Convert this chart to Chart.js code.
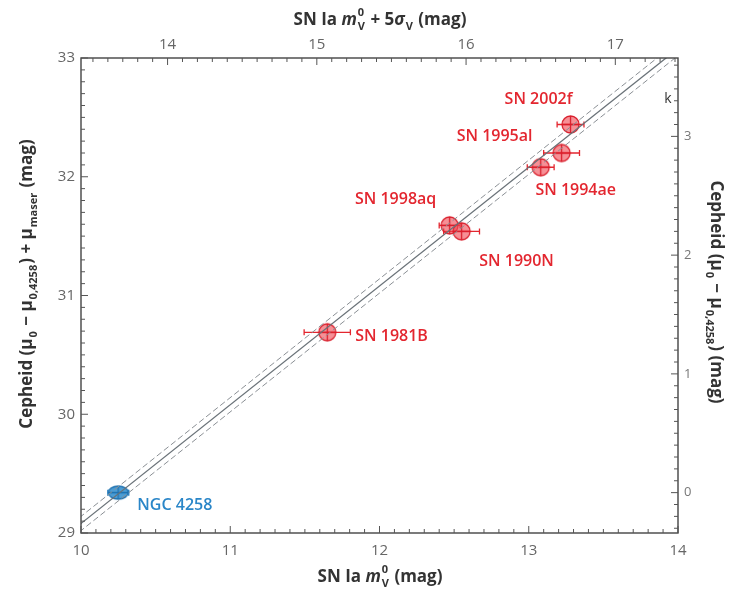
<!DOCTYPE html>
<html>
<head>
<meta charset="utf-8">
<script src="https://cdn.jsdelivr.net/npm/chart.js@4.4.1/dist/chart.umd.min.js"></script>
<style>
  html, body { margin: 0; padding: 0; background: #fff; }
</style>
</head>
<body>
<canvas id="hubbleChart" width="732" height="596"></canvas>
<script>
// SN Ia / Cepheid calibrators
const names   = ['NGC 4258', 'SN 1981B', 'SN 1998aq', 'SN 1990N', 'SN 1994ae', 'SN 1995al', 'SN 2002fk'];
const tags    = ['NGC 4258', 'SN 1981B', 'SN 1998aq', 'SN 1990N', 'SN 1994ae', 'SN 1995al', 'SN 2002f'];
const snMag   = [10.25, 11.65, 12.47, 12.55, 13.08, 13.22, 13.28];
const cephMu  = [29.34, 30.69, 31.59, 31.54, 32.08, 32.20, 32.44];
const snErr   = [0.07, 0.155, 0.07, 0.12, 0.09, 0.12, 0.09];

// fitted relation (slope 1) and its +/- band
const fitX = [9.8, 14.2];
const fitY = [28.88, 33.28];
const band = 0.06;

// axis ranges / tick values
const xRange  = [10, 14];
const yRange  = [29, 33];
const x2Shift = 3.42;    // top axis = m + 5 sigma
const y2Shift = 29.34;   // right axis = mu - mu(4258)
const bottomTicks = [10, 11, 12, 13, 14];
const topTicks    = [14, 15, 16, 17];
const leftTicks   = [29, 30, 31, 32, 33];
const rightTicks  = [0, 1, 2, 3];

// label offsets (px) from each point
const tagDx    = [19, 28, -54, 55, 35, -67, -32];
const tagDy    = [13, 4, -26, 30, 23, -17, -25];
const tagAlign = ['left', 'left', 'center', 'center', 'center', 'center', 'center'];

const RED = '#e3262f';
const BLUE = '#2a86c8';
const FONT = '"Open Sans", "Noto Sans", sans-serif';

function makeMarker(rx, ry, fill, stroke) {
    const c = document.createElement('canvas');
    const w = rx * 2 + 4, h = ry * 2 + 4;
    c.width = w; c.height = h;
    const g = c.getContext('2d');
    g.beginPath();
    g.ellipse(w / 2, h / 2, rx, ry, 0, 0, Math.PI * 2);
    g.fillStyle = fill;
    g.fill();
    g.strokeStyle = stroke;
    g.lineWidth = 1.3;
    g.stroke();
    g.beginPath();
    g.moveTo(w / 2 - rx, h / 2); g.lineTo(w / 2 + rx, h / 2);
    g.moveTo(w / 2, h / 2 - ry); g.lineTo(w / 2, h / 2 + ry);
    g.stroke();
    return c;
}
const redMarker = makeMarker(8.5, 8.5, 'rgba(240,70,80,0.6)', '#d91e2b');
const blueMarker = makeMarker(10, 6.5, 'rgba(45,140,205,0.85)', '#1f72b0');

// rich text: parts are {t, it} or {sub} or {sup, sub} stacked
function richWidth(ctx, parts, big, small) {
    let w = 0;
    parts.forEach(p => {
        if (p.t !== undefined) { ctx.font = (p.it ? 'italic ' : '') + big; w += ctx.measureText(p.t).width; }
        else {
            ctx.font = small;
            w += Math.max(p.sup ? ctx.measureText(p.sup).width : 0, p.sub ? ctx.measureText(p.sub).width : 0) + 2;
        }
    });
    return w;
}
function drawRich(ctx, parts, cx, cy, rot, big, small, color) {
    ctx.save();
    ctx.translate(cx, cy);
    ctx.rotate(rot);
    ctx.fillStyle = color;
    ctx.textBaseline = 'middle';
    ctx.textAlign = 'left';
    let x = -richWidth(ctx, parts, big, small) / 2;
    parts.forEach(p => {
        if (p.t !== undefined) {
            ctx.font = (p.it ? 'italic ' : '') + big;
            ctx.fillText(p.t, x, 0);
            x += ctx.measureText(p.t).width;
        } else {
            ctx.font = small;
            let w = 0;
            if (p.sup) { ctx.fillText(p.sup, x + 1, -7); w = ctx.measureText(p.sup).width; }
            if (p.sub) { ctx.fillText(p.sub, x + 1, 7); w = Math.max(w, ctx.measureText(p.sub).width); }
            x += w + 2;
        }
    });
    ctx.restore();
}

const titleBig = 'bold 17px ' + FONT;
const titleSmall = 'bold 11px ' + FONT;
const titleBottom = [{ t: 'SN Ia ' }, { t: 'm', it: true }, { sup: '0', sub: 'V' }, { t: ' (mag)' }];
const titleTop = [{ t: 'SN Ia ' }, { t: 'm', it: true }, { sup: '0', sub: 'V' }, { t: ' + 5' }, { t: 'σ', it: true }, { sub: 'V' }, { t: ' (mag)' }];
const titleLeft = [{ t: 'Cepheid (μ' }, { sub: '0' }, { t: ' − μ' }, { sub: '0,4258' }, { t: ') + μ' }, { sub: 'maser' }, { t: ' (mag)' }];
const titleRight = [{ t: 'Cepheid (μ' }, { sub: '0' }, { t: ' − μ' }, { sub: '0,4258' }, { t: ') (mag)' }];

const inwardTicks = {
    id: 'inwardTicks',
    beforeDatasetsDraw(chart) {
        // horizontal error bars
        const ctx = chart.ctx, xs = chart.scales.x, ys = chart.scales.y;
        ctx.save();
        ctx.lineWidth = 1.3;
        snMag.forEach((m, i) => {
            const y = ys.getPixelForValue(cephMu[i]);
            const x0 = xs.getPixelForValue(m - snErr[i]);
            const x1 = xs.getPixelForValue(m + snErr[i]);
            ctx.strokeStyle = i === 0 ? BLUE : RED;
            ctx.beginPath();
            ctx.moveTo(x0, y); ctx.lineTo(x1, y);
            ctx.moveTo(x0, y - 3); ctx.lineTo(x0, y + 3);
            ctx.moveTo(x1, y - 3); ctx.lineTo(x1, y + 3);
            ctx.stroke();
        });
        ctx.restore();
    },
    afterDraw(chart) {
        const ctx = chart.ctx, a = chart.chartArea;
        ctx.save();
        ctx.strokeStyle = '#444';
        ctx.lineWidth = 1.4;
        ctx.strokeRect(a.left, a.top, a.right - a.left, a.bottom - a.top);
        ctx.lineWidth = 1;
        ctx.strokeStyle = '#555';
        const tickSet = (scale, horizontal, sign, base) => {
            const lo = Math.ceil(scale.min * 10 - 1e-6), hi = Math.floor(scale.max * 10 + 1e-6);
            for (let k = lo; k <= hi; k++) {
                const p = scale.getPixelForValue(k / 10);
                const len = (k % 10 === 0) ? 7 : 4;
                ctx.beginPath();
                if (horizontal) { ctx.moveTo(p, base); ctx.lineTo(p, base + sign * len); }
                else { ctx.moveTo(base, p); ctx.lineTo(base + sign * len, p); }
                ctx.stroke();
            }
        };
        tickSet(chart.scales.x, true, -1, a.bottom);
        tickSet(chart.scales.x2, true, 1, a.top);
        tickSet(chart.scales.y, false, 1, a.left);
        tickSet(chart.scales.y2, false, -1, a.right);

        // axis titles
        drawRich(ctx, titleBottom, 380, 577, 0, titleBig, titleSmall, '#333');
        drawRich(ctx, titleTop, 380, 20, 0, titleBig, titleSmall, '#333');
        drawRich(ctx, titleLeft, 27, 284, -Math.PI / 2, titleBig, titleSmall, '#333');
        drawRich(ctx, titleRight, 716, 292, Math.PI / 2, titleBig, titleSmall, '#333');

        // point labels
        const xs = chart.scales.x, ys = chart.scales.y;
        ctx.font = '600 16px ' + FONT;
        ctx.textBaseline = 'middle';
        tags.forEach((t, i) => {
            ctx.fillStyle = i === 0 ? BLUE : RED;
            ctx.textAlign = tagAlign[i];
            ctx.fillText(t, xs.getPixelForValue(snMag[i]) + tagDx[i], ys.getPixelForValue(cephMu[i]) + tagDy[i]);
        });
        ctx.fillStyle = '#333';
        ctx.textAlign = 'center';
        ctx.font = '14px ' + FONT;
        ctx.fillText('k', 668, 99);
        ctx.restore();
    }
};

const tickFont = { family: FONT, size: 15 };
const hiddenGrid = { display: false, drawTicks: false };
const setTicks = list => scale => { scale.ticks = list.map(v => ({ value: v })); };

const ctx = document.getElementById('hubbleChart').getContext('2d');
const hubbleChart = new Chart(ctx, {
    type: 'scatter',
    data: {
        datasets: [
            {
                label: 'fit',
                type: 'line',
                data: fitX.map((x, i) => ({ x: x, y: fitY[i] })),
                borderColor: '#6a7278',
                borderWidth: 1.3,
                pointRadius: 0
            },
            {
                label: 'fit +',
                type: 'line',
                data: fitX.map((x, i) => ({ x: x, y: fitY[i] + band })),
                borderColor: '#8a8f94',
                borderWidth: 1,
                borderDash: [6, 3],
                pointRadius: 0
            },
            {
                label: 'fit -',
                type: 'line',
                data: fitX.map((x, i) => ({ x: x, y: fitY[i] - band })),
                borderColor: '#8a8f94',
                borderWidth: 1,
                borderDash: [6, 3],
                pointRadius: 0
            },
            {
                label: 'SN Ia',
                data: snMag.slice(1).map((m, i) => ({ x: m, y: cephMu[i + 1] })),
                pointStyle: redMarker
            },
            {
                label: names[0],
                data: [{ x: snMag[0], y: cephMu[0] }],
                pointStyle: blueMarker
            }
        ]
    },
    options: {
        responsive: false,
        animation: false,
        events: [],
        layout: { padding: 0 },
        plugins: {
            legend: { display: false },
            tooltip: { enabled: false }
        },
        scales: {
            x: {
                type: 'linear', position: 'bottom',
                min: xRange[0], max: xRange[1],
                grid: hiddenGrid, border: { display: false },
                afterBuildTicks: setTicks(bottomTicks),
                ticks: { padding: 9, font: tickFont, color: '#666' },
                afterFit: s => { s.height = 63; }
            },
            x2: {
                type: 'linear', position: 'top',
                min: xRange[0] + x2Shift, max: xRange[1] + x2Shift,
                grid: hiddenGrid, border: { display: false },
                afterBuildTicks: setTicks(topTicks),
                ticks: { padding: 4, font: tickFont, color: '#666' },
                afterFit: s => { s.height = 58; }
            },
            y: {
                type: 'linear', position: 'left',
                min: yRange[0], max: yRange[1],
                grid: hiddenGrid, border: { display: false },
                afterBuildTicks: setTicks(leftTicks),
                ticks: { padding: 6, font: tickFont, color: '#666' },
                afterFit: s => { s.width = 81; }
            },
            y2: {
                type: 'linear', position: 'right',
                min: yRange[0] - y2Shift, max: yRange[1] - y2Shift,
                grid: hiddenGrid, border: { display: false },
                afterBuildTicks: setTicks(rightTicks),
                ticks: { padding: 6, font: { family: FONT, size: 13 }, color: '#777' },
                afterFit: s => { s.width = 54; }
            }
        }
    },
    plugins: [inwardTicks]
});
</script>
</body>
</html>
